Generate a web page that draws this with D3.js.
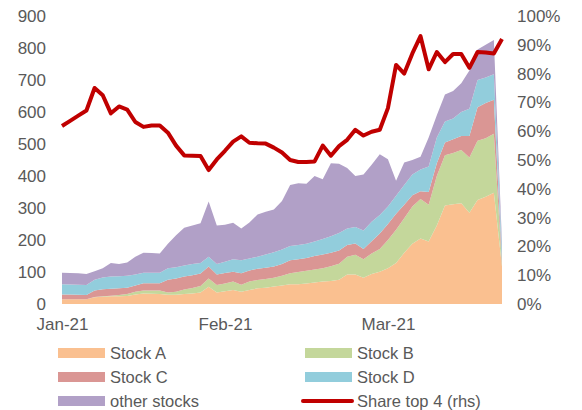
<!DOCTYPE html>
<html>
<head>
<meta charset="utf-8">
<script src="https://cdn.jsdelivr.net/npm/d3@7"></script>
<style>
  body { margin: 0; background: #fff; }
  text { font-family: "Liberation Sans", Arial, sans-serif; fill: #595959; }
</style>
</head>
<body>
<div id="chart"></div>
<script>
// Size of the picture and of the plot area
const width = 582;
const height = 410;
const margin = {left: 62, right: 80, top: 16, bottom: 106};

// Trading days, Jan-21 to Mar-21 (one value per day)
const xTickIndex = [0, 20, 40];
const xTickLabels = ["Jan-21", "Feb-21", "Mar-21"];

const seriesNames = ["Stock A", "Stock B", "Stock C", "Stock D", "other stocks"];

// cumulative tops, turned into series below
const topA = [15,15,15,15,21,23,24,24,25,30,33,32,31,29,29,31,33,36,54,36,
              40,44,38,44,49,51,55,58,62,62,64,67,70,72,76,92,92,82,94,101,
              112,128,160,188,205,195,245,308,312,315,285,325,335,348,117];
const topB = [15,15,15,15,22,24,26,28,31,38,42,42,42,36,38,45,50,56,80,59,
              64,70,60,70,75,78,82,88,96,100,104,108,112,118,126,148,154,140,158,172,
              200,232,268,305,328,310,400,465,472,481,458,510,518,532,122];
const topC = [30,30,29,28,42,46,48,49,51,58,65,65,65,76,80,86,90,95,117,92,
              97,101,96,105,110,113,117,125,137,140,144,150,155,160,167,184,189,172,196,220,
              250,282,310,340,352,350,440,505,515,525,525,615,628,638,135];
const topD = [62,61,60,59,76,83,86,87,88,92,98,98,98,112,115,120,125,128,148,125,
              132,140,137,142,148,155,162,170,181,184,188,195,203,212,222,236,241,230,257,278,
              305,338,372,405,420,430,520,570,580,600,610,700,708,718,170];
const topAll = [98,97,96,94,102,112,128,125,130,148,160,159,158,188,215,238,245,252,320,245,
                248,254,236,255,280,288,295,322,372,377,376,400,390,440,438,425,400,405,435,468,
                452,385,442,450,460,520,590,655,666,690,730,795,810,825,190];

// Share of the top 4 stocks, right axis (%)
const shareTop4 = [61.8,63.6,65.4,67.2,75,72.5,66.2,68.6,67.5,63.2,61.5,62,62,59.5,55,51.6,51.5,51.4,46.5,50.2,
                   53.2,56.4,58.2,56,55.8,55.7,54.3,52.6,50,49.3,49.3,49.5,55,51.5,54.8,57,60.5,58.5,59.8,60.5,
                   68,83,80,87,93,81.5,87.5,84,86.8,86.8,82,87.5,87.3,87,92];

const colors = ["#FAC090", "#C4D79B", "#DA9694", "#92CDDC", "#B1A0C7"];
const lineColor = "#C00000";

// series values from the cumulative tops
const stockA = topA.map((v, i) => v);
const stockB = topB.map((v, i) => v - topA[i]);
const stockC = topC.map((v, i) => v - topB[i]);
const stockD = topD.map((v, i) => v - topC[i]);
const others = topAll.map((v, i) => v - topD[i]);

const rows = stockA.map((v, i) => ({
  "Stock A": v, "Stock B": stockB[i], "Stock C": stockC[i],
  "Stock D": stockD[i], "other stocks": others[i], idx: i
}));

const svg = d3.select("#chart")
  .append("svg")
  .attr("width", width)
  .attr("height", height);

const x = d3.scaleLinear()
  .domain([0, rows.length - 1])
  .range([margin.left, width - margin.right]);

const y = d3.scaleLinear()
  .domain([0, 900])
  .range([height - margin.bottom, margin.top]);

const y2 = d3.scaleLinear()
  .domain([0, 1])
  .range([height - margin.bottom, margin.top]);

// stacked areas
const stacked = d3.stack().keys(seriesNames)(rows);

const area = d3.area()
  .x(d => x(d.data.idx))
  .y0(d => y(d[0]))
  .y1(d => y(d[1]));

svg.selectAll(".layer")
  .data(stacked)
  .enter()
  .append("path")
    .attr("class", "layer")
    .attr("d", area)
    .attr("fill", (d, i) => colors[i]);

// share line on the right axis
const line = d3.line()
  .x((d, i) => x(i))
  .y(d => y2(d / 100));

svg.append("path")
  .datum(shareTop4)
  .attr("d", line)
  .attr("fill", "none")
  .attr("stroke", lineColor)
  .attr("stroke-width", 4)
  .attr("stroke-linejoin", "round");

// axes
const leftAxis = svg.append("g")
  .attr("transform", `translate(${margin.left},0)`)
  .call(d3.axisLeft(y).tickValues(d3.range(0, 901, 100)).tickSize(0).tickPadding(16));

const rightAxis = svg.append("g")
  .attr("transform", `translate(${width - margin.right},0)`)
  .call(d3.axisRight(y2).tickValues(d3.range(0, 1.01, 0.1)).tickFormat(d3.format(".0%")).tickSize(0).tickPadding(15));

const bottomAxis = svg.append("g")
  .attr("transform", `translate(0,${height - margin.bottom})`)
  .call(d3.axisBottom(x).tickValues(xTickIndex).tickFormat((d, i) => xTickLabels[i]).tickSize(0).tickPadding(14));

[leftAxis, rightAxis, bottomAxis].forEach(g => {
  g.select(".domain").remove();
  g.selectAll("text")
    .attr("font-family", "Liberation Sans, Arial, sans-serif")
    .attr("font-size", "17px")
    .attr("fill", "#595959");
});

// legend
const legendItems = [
  {name: "Stock A", color: colors[0], type: "area"},
  {name: "Stock B", color: colors[1], type: "area"},
  {name: "Stock C", color: colors[2], type: "area"},
  {name: "Stock D", color: colors[3], type: "area"},
  {name: "other stocks", color: colors[4], type: "area"},
  {name: "Share top 4 (rhs)", color: lineColor, type: "line"}
];

const legend = svg.append("g");

const item = legend.selectAll(".item")
  .data(legendItems)
  .enter()
  .append("g")
    .attr("class", "item")
    .attr("transform", (d, i) => `translate(${i % 2 === 0 ? 58 : 305},${353 + Math.floor(i / 2) * 24})`);

item.filter(d => d.type === "area")
  .append("rect")
    .attr("x", 0)
    .attr("y", -5)
    .attr("width", 47)
    .attr("height", 10)
    .attr("fill", d => d.color);

item.filter(d => d.type === "line")
  .append("line")
    .attr("x1", -2)
    .attr("x2", 47)
    .attr("y1", 0)
    .attr("y2", 0)
    .attr("stroke", d => d.color)
    .attr("stroke-width", 4)
    .attr("stroke-linecap", "round");

item.append("text")
  .attr("x", 52)
  .attr("y", 0)
  .attr("dy", "0.35em")
  .attr("font-size", "16.5px")
  .text(d => d.name);
</script>
</body>
</html>
